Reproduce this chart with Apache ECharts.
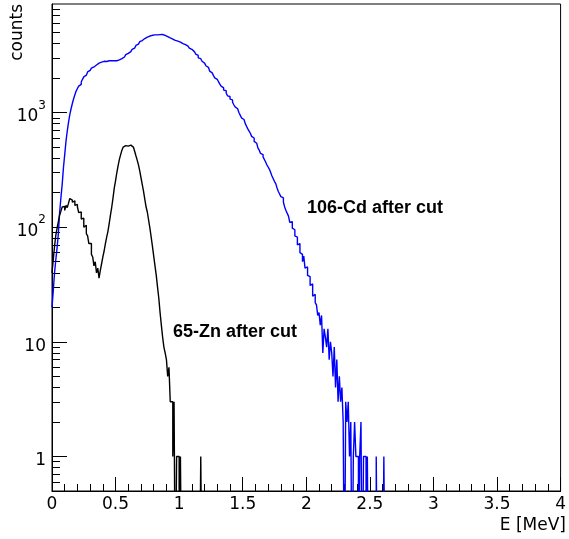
<!DOCTYPE html>
<html><head><meta charset="utf-8">
<script src="https://cdn.jsdelivr.net/npm/echarts@6/dist/echarts.min.js"></script>
<style>html,body{margin:0;padding:0;background:#fff}#c{width:569px;height:539px}</style>
</head><body><div id="c"></div>
<script>
// bin width in MeV, histograms start at E = 0
const BIN_WIDTH = 0.01;

// 106-Cd after cut (blue), counts per 0.01 MeV bin, starting at 0
const cd106Counts = [
  20, 28, 40, 52, 66, 88, 135, 180, 235, 330,
  430, 560, 690, 820, 960, 1080, 1200, 1320, 1430, 1540,
  1620, 1700, 1760, 1850, 1950, 2050, 2120, 2200, 2260, 2330,
  2400, 2440, 2500, 2560, 2600, 2650, 2700, 2720, 2750, 2780,
  2800, 2820, 2790, 2850, 2830, 2870, 2840, 2860, 2830, 2850,
  2830, 2860, 2880, 2870, 2950, 3000, 3050, 3120, 3200, 3280,
  3360, 3400, 3450, 3550, 3650, 3750, 3850, 3950, 4050, 4150,
  4250, 4350, 4420, 4500, 4550, 4600, 4650, 4700, 4720, 4740,
  4760, 4730, 4760, 4740, 4780, 4820, 4800, 4750, 4720, 4650,
  4600, 4540, 4480, 4420, 4380, 4320, 4260, 4200, 4200, 4150,
  4120, 4060, 4000, 3990, 3920, 3850, 3800, 3720, 3650, 3560,
  3420, 3400, 3300, 3240, 3150, 3000, 2950, 2900, 2800, 2700,
  2600, 2560, 2480, 2420, 2300, 2220, 2180, 2100, 2010, 1950,
  1880, 1850, 1770, 1700, 1640, 1570, 1550, 1480, 1400, 1380,
  1310, 1290, 1230, 1170, 1120, 1080, 1060, 1000, 950, 900,
  870, 840, 800, 760, 720, 690, 660, 620, 600, 560,
  540, 520, 490, 470, 440, 430, 410, 390, 370, 350,
  335, 320, 300, 280, 265, 250, 240, 220, 205, 195,
  185, 180, 165, 150, 140, 132, 125, 110, 112, 98,
  95, 84, 82, 70, 72, 60, 58, 50, 56, 44,
  45, 38, 37, 31, 32, 25, 26, 22, 21, 17,
  18, 14, 17, 8, 13, 11, 9, 13, 7, 10,
  8, 5, 9, 4, 7, 3, 5, 3, 4, 2,
  0, 3, 2, 3, 1, 2, 0, 1, 2, 1,
  1, 0, 1, 2, 0, 1, 1, 0, 1, 0,
  0, 0, 0, 0, 0, 1, 0, 0, 0, 0,
  0, 1, 0
];

// 65-Zn after cut (black), counts per 0.01 MeV bin, starting at 0
const zn65Counts = [
  40, 52, 68, 85, 98, 112, 128, 138, 150, 152,
  140, 155, 148, 162, 178, 172, 165, 170, 155, 158,
  150, 134, 136, 118, 120, 100, 104, 88, 84, 72,
  72, 58, 55, 46, 50, 40, 44, 36, 42, 48,
  55, 62, 72, 82, 92, 108, 128, 150, 180, 220,
  255, 300, 345, 390, 430, 470, 500, 515, 520, 510,
  525, 520, 510, 500, 485, 460, 420, 385, 350, 310,
  270, 235, 205, 175, 150, 135, 115, 98, 82, 68,
  56, 46, 38, 30, 24, 18, 14, 11, 9, 8,
  7, 5, 6, 3, 3, 1, 3, 0, 1, 1,
  0, 1, 0, 0, 0, 0, 0, 0, 0, 0,
  0, 0, 0, 0, 0, 0, 0, 1, 0
];

const xRange = [0, 4];
const yRange = [0.5, 8850];
const yMajorTicks = [1, 10, 100, 1000];
const yMinorTicks = [0.6, 0.7, 0.8, 0.9, 2, 3, 4, 5, 6, 7, 8, 9,
  20, 30, 40, 50, 60, 70, 80, 90, 200, 300, 400, 500, 600, 700, 800, 900,
  2000, 3000, 4000, 5000, 6000, 7000, 8000];
const seriesNames = ['106-Cd after cut', '65-Zn after cut'];
const xTitle = 'E [MeV]';
const yTitle = 'counts';
// annotation anchors in data space [E, counts] (left edge / vertical middle of text)
const cdLabelAnchor = [2.006, 146];
const znLabelAnchor = [0.952, 12.2];

const ZERO_FLOOR = 0.05; // empty bins drawn below the log-axis minimum
function histPoints(counts) {
  const pts = counts.map((c, i) => [+(i * BIN_WIDTH).toFixed(4), c > 0 ? c : ZERO_FLOOR]);
  const last = counts[counts.length - 1];
  pts.push([+(counts.length * BIN_WIDTH).toFixed(4), last > 0 ? last : ZERO_FLOOR]);
  return pts;
}

const FONT = 'DejaVu Sans';
const chart = echarts.init(document.getElementById('c'), null, {renderer: 'canvas'});
const option = {
  animation: false,
  backgroundColor: '#fff',
  grid: {left: 52, right: 2, top: 4, bottom: 48, show: true, borderColor: '#000', borderWidth: 1, containLabel: false},
  xAxis: {
    type: 'value', min: xRange[0], max: xRange[1], interval: 0.5,
    axisLine: {show: true, onZero: false, lineStyle: {color: '#000', width: 1}},
    axisTick: {show: true, inside: true, length: 14, lineStyle: {color: '#000'}},
    minorTick: {show: true, splitNumber: 5, length: 7, lineStyle: {color: '#000'}},
    splitLine: {show: false},
    axisLabel: {color: '#000', fontFamily: FONT, fontSize: 17, margin: 5, showMinLabel: true, showMaxLabel: true,
      formatter: v => String(v)}
  },
  yAxis: [{
    type: 'log', logBase: 10, min: yRange[0], max: yRange[1],
    axisLine: {show: true, lineStyle: {color: '#000', width: 1}},
    axisTick: {show: true, inside: true, length: 15, customValues: yMajorTicks, lineStyle: {color: '#000'}},
    splitLine: {show: false},
    minorTick: {show: false},
    axisLabel: {
      customValues: yMajorTicks, color: '#000', fontFamily: FONT, fontSize: 17, margin: 6,
      formatter: v => {
        const p = Math.round(Math.log10(v));
        if (p === 0) return '{b|1}';
        if (p === 1) return '{b|10}';
        return '{b|10}{s|' + p + '}';
      },
      rich: {
        b: {fontFamily: FONT, fontSize: 17, color: '#000', lineHeight: 26, verticalAlign: 'bottom'},
        s: {fontFamily: FONT, fontSize: 12, color: '#000', lineHeight: 14, verticalAlign: 'top'}
      }
    }
  }, {
    type: 'log', logBase: 10, min: yRange[0], max: yRange[1], position: 'left',
    axisLine: {show: false},
    axisTick: {show: true, inside: true, length: 8, customValues: yMinorTicks, lineStyle: {color: '#000'}},
    axisLabel: {show: false},
    splitLine: {show: false}
  }],
  series: [{
    name: seriesNames[0], type: 'line', step: 'end', data: histPoints(cd106Counts),
    showSymbol: false, symbol: 'none', clip: true,
    lineStyle: {color: '#0000ff', width: 1.4}, itemStyle: {color: '#0000ff'}, z: 2
  }, {
    name: seriesNames[1], type: 'line', step: 'end', data: histPoints(zn65Counts),
    showSymbol: false, symbol: 'none', clip: true,
    lineStyle: {color: '#000', width: 1.4}, itemStyle: {color: '#000'}, z: 3
  }]
};
chart.setOption(option);

const pCd = chart.convertToPixel({gridIndex: 0}, cdLabelAnchor);
const pZn = chart.convertToPixel({gridIndex: 0}, znLabelAnchor);
chart.setOption({
  graphic: [
    {type: 'text', x: pCd[0], y: pCd[1], style: {text: seriesNames[0], fill: '#000', font: 'bold 18px "Liberation Sans"', align: 'left', verticalAlign: 'middle'}},
    {type: 'text', x: pZn[0], y: pZn[1], style: {text: seriesNames[1], fill: '#000', font: 'bold 18px "Liberation Sans"', align: 'left', verticalAlign: 'middle'}},
    {type: 'text', x: 566, y: 534, style: {text: xTitle, fill: '#000', font: '17px "DejaVu Sans"', align: 'right', verticalAlign: 'bottom'}},
    {type: 'text', x: 18, y: 4, rotation: Math.PI / 2, style: {text: yTitle, fill: '#000', font: '17px "DejaVu Sans"', align: 'right', verticalAlign: 'middle'}}
  ]
});
</script>
</body></html>
